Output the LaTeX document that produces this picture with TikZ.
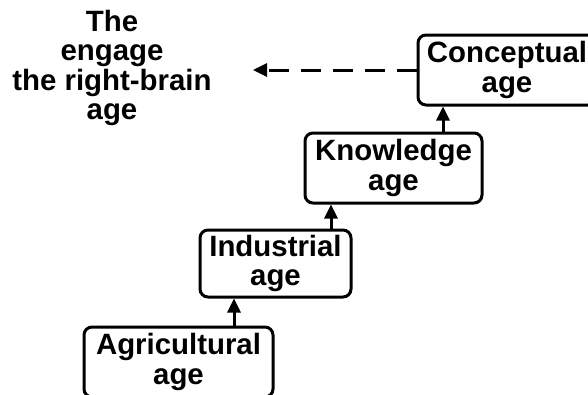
\documentclass[tikz,border=0pt]{standalone}
\usepackage{fontspec}
\setmainfont{Liberation Sans}
\usetikzlibrary{arrows.meta}
\begin{document}
\begin{tikzpicture}[x=1bp,y=-1bp,
  agebox/.style={draw, line width=3bp, rounded corners=8bp, align=center,
    inner sep=0pt, font=\bfseries\fontsize{29.5}{29.5}\selectfont},
  lbl/.style={align=center, inner sep=0pt, font=\bfseries\fontsize{29.5}{29.5}\selectfont},
  arr/.style={line width=3bp, -{Triangle[length=14bp,width=13bp]}}]
\useasboundingbox (0,0) rectangle (588,394);
\clip (0,0) rectangle (588,394);
\node[agebox, minimum width=178bp, minimum height=70bp] (conc) at (507,70) {Conceptual\\age};
\node[agebox, minimum width=177bp, minimum height=70bp] (know) at (393.5,168) {Knowledge\\age};
\node[agebox, minimum width=151bp, minimum height=67bp] (ind) at (275.5,263.5) {Industrial\\age};
\node[agebox, minimum width=189bp, minimum height=70bp] (agri) at (178.5,362) {Agricultural\\age};
\node[lbl] (txt) at (112,68) {The\\engage\\the right-brain\\age};
\coordinate (tip) at (253,70);
\draw[arr] ([xshift=55.5bp]agri.north) -- ([xshift=55.5bp]agri.north |- ind.south);
\draw[arr] ([xshift=55.5bp]ind.north) -- ([xshift=55.5bp]ind.north |- know.south);
\draw[arr] ([xshift=49.5bp]know.north) -- ([xshift=49.5bp]know.north |- conc.south);
\draw[arr, dash pattern=on 20bp off 12bp] (conc.west) -- (tip);
\end{tikzpicture}
\end{document}
